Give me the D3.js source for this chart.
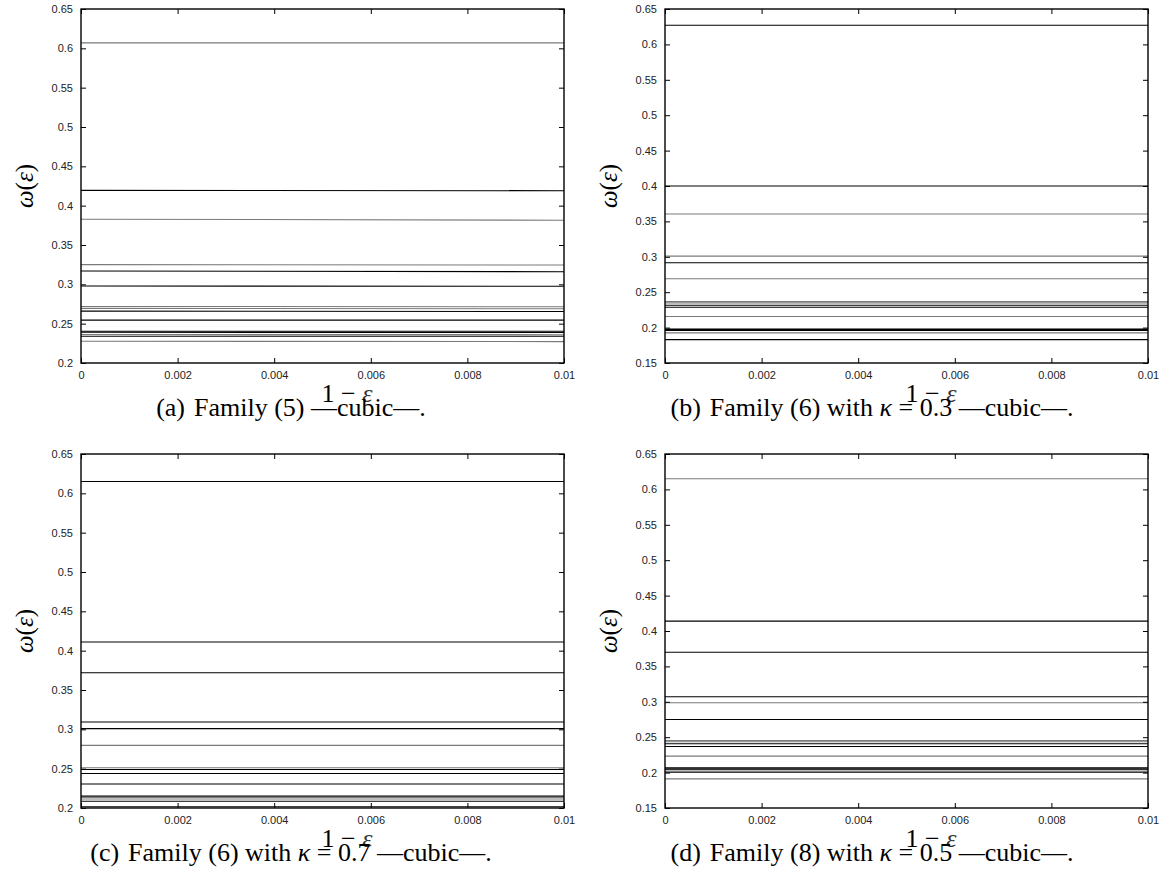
<!DOCTYPE html>
<html>
<head>
<meta charset="utf-8">
<script src="https://cdn.jsdelivr.net/npm/d3@7/dist/d3.min.js"></script>
<style>
  html, body { margin: 0; padding: 0; background: #fff; }
  svg { display: block; }
  .tick text { font-family: "Liberation Sans", Arial, sans-serif; font-size: 11px; fill: #222; }
  .serif { font-family: "Liberation Serif", "Times New Roman", serif; fill: #000; }
</style>
</head>
<body>
<svg id="fig" width="1173" height="878"></svg>
<script>
// Horizontal axis: 1 - epsilon
const xTicks = [0, 0.002, 0.004, 0.006, 0.008, 0.01];
const xTickLabels = ["0", "0.002", "0.004", "0.006", "0.008", "0.01"];

// Vertical ticks, two ranges
const yTicksHigh = [0.2, 0.25, 0.3, 0.35, 0.4, 0.45, 0.5, 0.55, 0.6, 0.65];
const yTickLabelsHigh = ["0.2", "0.25", "0.3", "0.35", "0.4", "0.45", "0.5", "0.55", "0.6", "0.65"];
const yTicksLow = [0.15, 0.2, 0.25, 0.3, 0.35, 0.4, 0.45, 0.5, 0.55, 0.6, 0.65];
const yTickLabelsLow = ["0.15", "0.2", "0.25", "0.3", "0.35", "0.4", "0.45", "0.5", "0.55", "0.6", "0.65"];

// omega(eps) of each mode: value at 1-eps = 0 and at 1-eps = 0.01
// (a) Family (5), cubic
const omegaA = [
  [0.607, 0.607], [0.4195, 0.419], [0.3828, 0.3815], [0.3251, 0.3245],
  [0.317, 0.316], [0.2979, 0.2975], [0.2719, 0.2715], [0.2694, 0.269],
  [0.266, 0.2655], [0.2545, 0.2545], [0.2404, 0.2404], [0.2391, 0.2388],
  [0.2362, 0.236], [0.234, 0.234], [0.2277, 0.2272]
];
const toneA = [0, 1, 0, 0, 1, 1, 0, 0, 1, 1, 1, 1, 0, 1, 0];

// (b) Family (6), kappa = 0.3, cubic
const omegaB = [
  [0.627, 0.627], [0.4, 0.4], [0.3605, 0.3605], [0.301, 0.301],
  [0.2915, 0.2915], [0.2689, 0.2689], [0.2368, 0.2368], [0.2349, 0.2349],
  [0.2316, 0.2316], [0.2288, 0.2288], [0.2156, 0.2156], [0.1986, 0.1986],
  [0.1972, 0.1972], [0.1958, 0.1958], [0.1925, 0.1925], [0.183, 0.183]
];
const toneB = [1, 1, 0, 0, 1, 0, 0, 0, 1, 1, 0, 0, 1, 1, 0, 1];

// (c) Family (6), kappa = 0.7, cubic
const omegaC = [
  [0.615, 0.615], [0.411, 0.411], [0.372, 0.372], [0.3094, 0.3094],
  [0.3009, 0.3009], [0.2796, 0.2796], [0.2511, 0.2511], [0.2489, 0.2489],
  [0.2438, 0.2438], [0.2306, 0.2306], [0.2153, 0.2153], [0.214, 0.214],
  [0.2115, 0.2115], [0.2085, 0.2085], [0.2015, 0.2015]
];
const toneC = [1, 1, 1, 1, 1, 0, 0, 1, 1, 1, 1, 1, 0, 1, 1];

// (d) Family (8), kappa = 0.5, cubic
const omegaD = [
  [0.615, 0.615], [0.414, 0.414], [0.37, 0.37], [0.3071, 0.3071],
  [0.2986, 0.2986], [0.275, 0.275], [0.2454, 0.2454], [0.2435, 0.2435],
  [0.2407, 0.2407], [0.2369, 0.2369], [0.2233, 0.2233], [0.2068, 0.2068],
  [0.2054, 0.2054], [0.204, 0.204], [0.2007, 0.2007], [0.1912, 0.1912]
];
const toneD = [0, 1, 1, 1, 0, 1, 0, 0, 1, 1, 0, 1, 1, 1, 1, 0];

const captions = [
  { tag: "(a)", parts: [["Family (5) —cubic—.", false]] },
  { tag: "(b)", parts: [["Family (6) with ", false], ["κ", true], [" = 0.3 —cubic—.", false]] },
  { tag: "(c)", parts: [["Family (6) with ", false], ["κ", true], [" = 0.7 —cubic—.", false]] },
  { tag: "(d)", parts: [["Family (8) with ", false], ["κ", true], [" = 0.5 —cubic—.", false]] }
];

const panels = [
  { left: 81,  top: 9,   yDom: [0.2, 0.65],  yT: yTicksHigh, yL: yTickLabelsHigh, data: omegaA, tone: toneA, cap: captions[0], cx: 291 },
  { left: 665, top: 9,   yDom: [0.15, 0.65], yT: yTicksLow,  yL: yTickLabelsLow,  data: omegaB, tone: toneB, cap: captions[1], cx: 872 },
  { left: 81,  top: 454, yDom: [0.2, 0.65],  yT: yTicksHigh, yL: yTickLabelsHigh, data: omegaC, tone: toneC, cap: captions[2], cx: 291 },
  { left: 665, top: 454, yDom: [0.15, 0.65], yT: yTicksLow,  yL: yTickLabelsLow,  data: omegaD, tone: toneD, cap: captions[3], cx: 872 }
];

const PW = 483, PH = 354, TICK = 5;
const svg = d3.select("#fig");
svg.append("rect").attr("width", 1173).attr("height", 878).attr("fill", "#fff");

panels.forEach(p => {
  const g = svg.append("g").attr("transform", `translate(${p.left},${p.top})`);
  const x = d3.scaleLinear().domain([xTicks[0], xTicks[xTicks.length - 1]]).range([0, PW]);
  const y = d3.scaleLinear().domain(p.yDom).range([PH, 0]);

  // mode curves
  const line = d3.line().x(d => x(d[0])).y(d => y(d[1]));
  g.append("g").selectAll("path")
    .data(p.data)
    .join("path")
    .attr("d", d => line([[xTicks[0], d[0]], [xTicks[xTicks.length - 1], d[1]]]))
    .attr("fill", "none")
    .attr("stroke", (d, i) => p.tone[i] ? "#000" : "#7a7a7a")
    .attr("stroke-width", 1.1);

  // axes with inward ticks on all four sides
  const fmtX = (d, i) => xTickLabels[i];
  const fmtY = (d, i) => p.yL[i];
  const bottom = g.append("g").attr("transform", `translate(0,${PH})`)
    .call(d3.axisBottom(x).tickValues(xTicks).tickFormat(fmtX).tickSizeInner(-TICK).tickSizeOuter(0).tickPadding(8));
  const top = g.append("g")
    .call(d3.axisTop(x).tickValues(xTicks).tickFormat("").tickSizeInner(-TICK).tickSizeOuter(0));
  const left = g.append("g")
    .call(d3.axisLeft(y).tickValues(p.yT).tickFormat(fmtY).tickSizeInner(-TICK).tickSizeOuter(0).tickPadding(8));
  const right = g.append("g").attr("transform", `translate(${PW},0)`)
    .call(d3.axisRight(y).tickValues(p.yT).tickFormat("").tickSizeInner(-TICK).tickSizeOuter(0));
  [bottom, top, left, right].forEach(a => {
    a.select(".domain").remove();
    a.selectAll(".tick line").attr("stroke", "#000").attr("stroke-width", 1);
  });

  // frame
  g.append("rect").attr("width", PW).attr("height", PH)
    .attr("fill", "none").attr("stroke", "#000").attr("stroke-width", 1.4);

  // y label  omega(eps)
  const yl = g.append("text").attr("class", "serif")
    .attr("transform", `translate(-48,${PH / 2}) rotate(-90)`)
    .attr("text-anchor", "middle").attr("font-size", 25);
  yl.append("tspan").attr("font-style", "italic").text("ω");
  yl.append("tspan").text("(");
  yl.append("tspan").attr("font-style", "italic").text("ε");
  yl.append("tspan").text(")");

  // x label  1 - eps
  const xl = svg.append("text").attr("class", "serif")
    .attr("x", p.left + 266).attr("y", p.top + PH + 39)
    .attr("text-anchor", "middle").attr("font-size", 26);
  xl.append("tspan").text("1 − ");
  xl.append("tspan").attr("font-style", "italic").attr("fill", "#333").text("ε");

  // caption
  const cap = svg.append("text").attr("class", "serif")
    .attr("x", p.cx).attr("y", p.top + PH + 53)
    .attr("text-anchor", "middle").attr("font-size", 26);
  cap.append("tspan").text(p.cap.tag);
  p.cap.parts.forEach((pt, k) => {
    const t = cap.append("tspan").attr("font-style", pt[1] ? "italic" : null).text(pt[0]);
    if (k === 0) t.attr("dx", 9);
  });
});
</script>
</body>
</html>
